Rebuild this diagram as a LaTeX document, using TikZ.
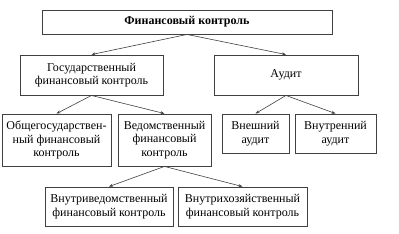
\documentclass[tikz,border=0pt]{standalone}
\usepackage{fontspec}
\setmainfont{Liberation Serif}
\usepackage{tikz}
\usetikzlibrary{arrows.meta}

\begin{document}
\begin{tikzpicture}[
  x=1pt, y=-1pt,
  box/.style={rectangle, draw=black!75, line width=0.9pt, fill=white, align=center, inner sep=1pt, font=\fontsize{12}{13.5}\selectfont},
  arrow/.style={-{Stealth[length=4pt,width=3pt]}, draw=black!75, line width=0.6pt}
]
\useasboundingbox (0,0) rectangle (399,233);
% top level
\node[box, minimum width=290pt, minimum height=24pt, font=\fontsize{12}{13.5}\selectfont\bfseries] (fin) at (187,22) {Финансовый контроль};
% second level
\node[box, minimum width=143pt, minimum height=40pt] (gos) at (91.5,75) {Государственный\\финансовый контроль};
\node[box, minimum width=144pt, minimum height=40pt] (aud) at (286,75) {Аудит};
% third level
\node[box, minimum width=109pt, minimum height=52pt] (obsh) at (56.5,140) {Общегосударствен-\\ный финансовый\\контроль};
\node[box, minimum width=93pt, minimum height=52pt] (ved) at (164.5,140) {Ведомственный\\финансовый\\контроль};
\node[box, minimum width=67pt, minimum height=39pt] (vnesh) at (255.5,133.5) {Внешний\\аудит};
\node[box, minimum width=81pt, minimum height=39pt] (vnutr) at (335.5,133.5) {Внутренний\\аудит};
% fourth level
\node[box, minimum width=128pt, minimum height=39pt] (vnved) at (109,206.5) {Внутриведомственный\\финансовый контроль};
\node[box, minimum width=129pt, minimum height=39pt] (vnhoz) at (242.5,206.5) {Внутрихозяйственный\\финансовый контроль};
% arrows
\draw[arrow] (fin.south) -- (gos.north);
\draw[arrow] (fin.south) -- (aud.north);
\draw[arrow] (gos.south) -- (obsh.north);
\draw[arrow] (gos.south) -- (ved.north);
\draw[arrow] (aud.south) -- (vnesh.north);
\draw[arrow] (aud.south) -- (vnutr.north);
\draw[arrow] (ved.south) -- (vnved.north);
\draw[arrow] (ved.south) -- (vnhoz.north);
\end{tikzpicture}
\end{document}
